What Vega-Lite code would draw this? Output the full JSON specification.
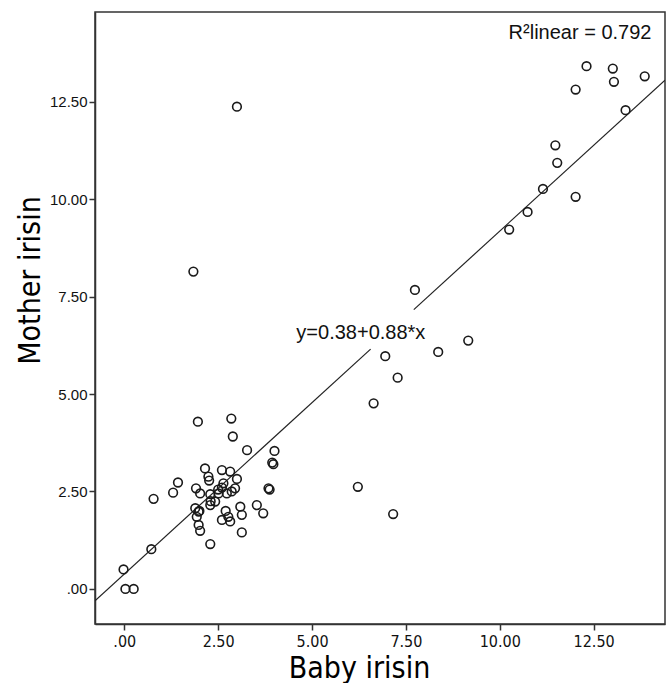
{
  "$schema": "https://vega.github.io/schema/vega-lite/v6.json",
  "width": 570,
  "height": 612,
  "autosize": {"type": "none"},
  "padding": {"left": 95, "top": 12, "right": 2, "bottom": 59},
  "background": "white",
  "config": {
    "view": {"stroke": "#333", "strokeWidth": 1.5},
    "axis": {"grid": false, "domainColor": "#333", "domainWidth": 1.5, "tickColor": "#333", "tickWidth": 1.5, "tickSize": 6,
      "labelFont": "Liberation Sans Narrow, DejaVu Sans Condensed, sans-serif", "labelFontSize": 16, "labelColor": "#111",
      "titleFont": "Liberation Sans Narrow, DejaVu Sans Condensed, sans-serif", "titleFontSize": 30, "titleFontWeight": "normal", "titleColor": "#000"}
  },
  "datasets": {
    "points": [
      {"baby": -0.02, "mother": 0.5}, {"baby": 0.03, "mother": 0.0}, {"baby": 0.25, "mother": 0.0},
      {"baby": 0.72, "mother": 1.02}, {"baby": 0.78, "mother": 2.31}, {"baby": 1.3, "mother": 2.47}, {"baby": 1.43, "mother": 2.73},
      {"baby": 1.96, "mother": 4.29}, {"baby": 2.85, "mother": 4.37}, {"baby": 2.89, "mother": 3.91}, {"baby": 3.27, "mother": 3.56},
      {"baby": 4.0, "mother": 3.54}, {"baby": 3.94, "mother": 3.24}, {"baby": 3.97, "mother": 3.2},
      {"baby": 2.15, "mother": 3.09}, {"baby": 2.24, "mother": 2.88}, {"baby": 2.26, "mother": 2.78}, {"baby": 2.6, "mother": 3.05},
      {"baby": 2.82, "mother": 3.01}, {"baby": 3.0, "mother": 2.82}, {"baby": 2.64, "mother": 2.71}, {"baby": 2.6, "mother": 2.6},
      {"baby": 1.91, "mother": 2.58}, {"baby": 2.02, "mother": 2.45}, {"baby": 2.29, "mother": 2.43}, {"baby": 2.42, "mother": 2.24},
      {"baby": 2.3, "mother": 2.25}, {"baby": 2.51, "mother": 2.45}, {"baby": 2.86, "mother": 2.5}, {"baby": 2.95, "mother": 2.58},
      {"baby": 2.73, "mother": 2.45}, {"baby": 1.89, "mother": 2.07}, {"baby": 1.98, "mother": 1.98}, {"baby": 1.93, "mother": 1.85},
      {"baby": 1.98, "mother": 1.64}, {"baby": 2.02, "mother": 1.49}, {"baby": 2.29, "mother": 2.15}, {"baby": 2.6, "mother": 1.77},
      {"baby": 2.77, "mother": 1.85}, {"baby": 2.82, "mother": 1.73}, {"baby": 3.09, "mother": 2.11}, {"baby": 3.13, "mother": 1.9},
      {"baby": 3.53, "mother": 2.15}, {"baby": 3.7, "mother": 1.94}, {"baby": 3.84, "mother": 2.58}, {"baby": 3.87, "mother": 2.55},
      {"baby": 3.13, "mother": 1.45}, {"baby": 2.29, "mother": 1.15}, {"baby": 2.5, "mother": 2.55}, {"baby": 2.7, "mother": 2.0},
      {"baby": 2.0, "mother": 2.0},
      {"baby": 1.84, "mother": 8.14}, {"baby": 3.0, "mother": 12.37}, {"baby": 6.22, "mother": 2.62}, {"baby": 7.16, "mother": 1.92},
      {"baby": 6.64, "mother": 4.76}, {"baby": 7.28, "mother": 5.42}, {"baby": 6.95, "mother": 5.97}, {"baby": 8.36, "mother": 6.08},
      {"baby": 9.16, "mother": 6.37}, {"baby": 7.74, "mother": 7.67},
      {"baby": 10.25, "mother": 9.22}, {"baby": 10.74, "mother": 9.67}, {"baby": 11.15, "mother": 10.26}, {"baby": 12.02, "mother": 10.06},
      {"baby": 11.53, "mother": 10.93}, {"baby": 11.48, "mother": 11.38}, {"baby": 13.35, "mother": 12.28}, {"baby": 12.02, "mother": 12.81},
      {"baby": 12.31, "mother": 13.41}, {"baby": 13.01, "mother": 13.35}, {"baby": 13.04, "mother": 13.01}, {"baby": 13.86, "mother": 13.15}
    ],
    "fit": [
      {"seg": "a", "baby": -0.78, "mother": -0.306},
      {"seg": "a", "baby": 6.56, "mother": 6.153},
      {"seg": "b", "baby": 7.71, "mother": 7.165},
      {"seg": "b", "baby": 14.4, "mother": 13.052}
    ],
    "labels": [
      {"baby": 6.3, "mother": 6.56, "text": "y=0.38+0.88*x"}
    ],
    "r2": [
      {"baby": 14.04, "mother": 14.26, "text": "R²linear = 0.792"}
    ]
  },
  "layer": [
    {
      "data": {"name": "fit"},
      "mark": {"type": "line", "color": "#222", "strokeWidth": 1.2, "clip": true},
      "encoding": {
        "x": {"field": "baby", "type": "quantitative",
          "scale": {"domain": [-0.78, 14.4], "nice": false, "zero": false},
          "axis": {"values": [0, 2.5, 5, 7.5, 10, 12.5], "labelExpr": "datum.value == 0 ? '.00' : format(datum.value, '.2f')",
            "title": "Baby irisin", "titleX": 264, "titleY": 53, "titleBaseline": "alphabetic", "titleAnchor": null, "titleAlign": "center", "labelPadding": 3}},
        "y": {"field": "mother", "type": "quantitative",
          "scale": {"domain": [-0.9, 14.8], "nice": false, "zero": false},
          "axis": {"values": [0, 2.5, 5, 7.5, 10, 12.5], "labelExpr": "datum.value == 0 ? '.00' : format(datum.value, '.2f')",
            "title": "Mother irisin", "titleX": -56, "titleY": 268, "titleBaseline": "alphabetic", "titleAlign": "center", "titleAngle": -90,
            "labelFont": "Liberation Sans, Arial, sans-serif", "labelFontSize": 15, "labelPadding": 2}},
        "detail": {"field": "seg"}
      }
    },
    {
      "data": {"name": "points"},
      "mark": {"type": "point", "shape": "circle", "filled": false, "stroke": "#1a1a1a", "strokeWidth": 1.6, "size": 75, "opacity": 1},
      "encoding": {
        "x": {"field": "baby", "type": "quantitative"},
        "y": {"field": "mother", "type": "quantitative"}
      }
    },
    {
      "data": {"name": "labels"},
      "mark": {"type": "text", "font": "Liberation Sans, Arial, sans-serif", "fontSize": 20, "color": "#111", "align": "center", "baseline": "middle"},
      "encoding": {
        "x": {"field": "baby", "type": "quantitative"},
        "y": {"field": "mother", "type": "quantitative"},
        "text": {"field": "text"}
      }
    },
    {
      "data": {"name": "r2"},
      "mark": {"type": "text", "font": "Liberation Sans, Arial, sans-serif", "fontSize": 20, "color": "#111", "align": "right", "baseline": "middle"},
      "encoding": {
        "x": {"field": "baby", "type": "quantitative"},
        "y": {"field": "mother", "type": "quantitative"},
        "text": {"field": "text"}
      }
    }
  ]
}
